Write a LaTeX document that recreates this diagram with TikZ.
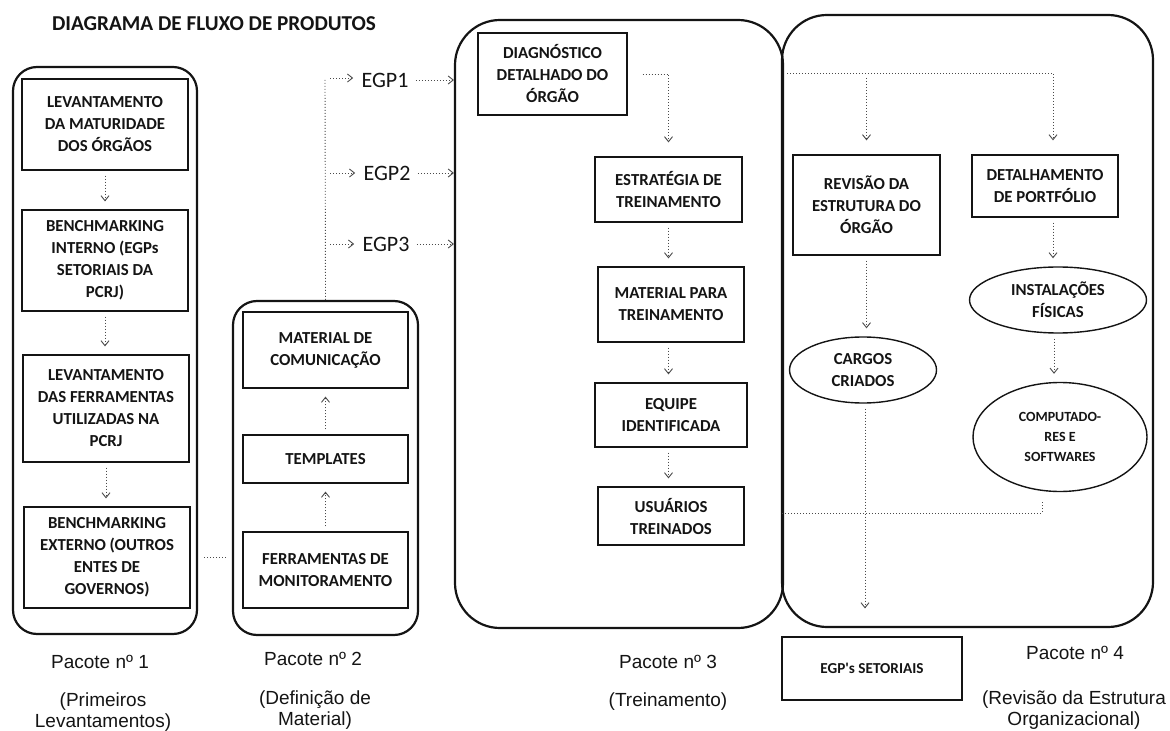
\documentclass[tikz,border=0pt]{standalone}
\usepackage{fontspec}
\usepackage{xcolor}
\usepackage{tikz}
\usetikzlibrary{arrows.meta,positioning,shapes.geometric,calc}
\newfontfamily\boxfont{Carlito}
\newfontfamily\capfont{Liberation Sans}
\definecolor{ink}{HTML}{141414}
\definecolor{dotgray}{HTML}{4A4A4A}
\tikzset{
  prodbox/.style={
    rectangle, draw=ink, line width=0.6pt, text=ink,
    font=\boxfont\bfseries\fontsize{8.4}{11}\selectfont, align=center,
    inner sep=1pt
  },
  prodellipse/.style={
    ellipse, draw=ink, line width=0.7pt, text=ink,
    font=\boxfont\bfseries\fontsize{8.4}{11}\selectfont, align=center,
    inner sep=0pt
  },
  pkgframe/.style={
    rectangle, draw=ink, line width=1.1pt, rounded corners=#1
  },
  pkgframe/.default=12pt,
  flowline/.style={
    dotgray, line width=0.45pt, dash pattern=on 0.5pt off 1pt
  },
  flowarrow/.style={
    flowline, -{Straight Barb[length=2.5pt,width=4pt]},
    shorten <=2.5pt, shorten >=#1
  },
  flowarrow/.default=4pt,
  pkglabel/.style={
    font=\capfont\fontsize{9.5}{10.5}\selectfont, align=center, text=ink
  },
  egplabel/.style={
    font=\boxfont\fontsize{11}{13}\selectfont, text=ink, inner sep=1pt
  },
}

\begin{document}
\begin{tikzpicture}[x=0.5pt, y=-0.5pt]
\useasboundingbox (0,0) rectangle (1170,731);

% Title
\node[font=\boxfont\bfseries\fontsize{10.6}{12}\selectfont, text=ink] (title) at (214,24)
  {DIAGRAMA DE FLUXO DE PRODUTOS};

% Package frames
\node[pkgframe, minimum width=92pt, minimum height=283.5pt] (p1) at (105,350.5) {};
\node[pkgframe, minimum width=92.5pt, minimum height=167pt] (p2) at (325.5,468) {};
\node[pkgframe=22.5pt, minimum width=164pt, minimum height=304pt] (p3) at (619,324) {};
\node[pkgframe=22.5pt, minimum width=185.5pt, minimum height=306pt] (p4) at (967.5,321) {};

% Pacote 1
\node[prodbox, minimum width=83pt, minimum height=45.5pt] (lev1) at (105,124.5)
  {LEVANTAMENTO\\DA MATURIDADE\\DOS ÓRGÃOS};
\node[prodbox, minimum width=83pt, minimum height=50.5pt] (bench1) at (105,260.5)
  {BENCHMARKING\\INTERNO (EGPs\\SETORIAIS DA\\PCRJ)};
\node[prodbox, minimum width=83pt, minimum height=53.5pt] (lev2) at (106,408.5)
  {LEVANTAMENTO\\DAS FERRAMENTAS\\UTILIZADAS NA\\PCRJ};
\node[prodbox, minimum width=83pt, minimum height=50.5pt] (bench2) at (107,557.5)
  {BENCHMARKING\\EXTERNO (OUTROS\\ENTES DE\\GOVERNOS)};

\draw[flowarrow] (lev1.south) -- (lev1.south |- bench1.north);
\draw[flowarrow] (bench1.south) -- (bench1.south |- lev2.north);
\draw[flowarrow] (lev2.south) -- (lev2.south |- bench2.north);

% Pacote 2
\node[prodbox, minimum width=82.5pt, minimum height=38pt] (matcom) at (325.5,350)
  {MATERIAL DE\\COMUNICAÇÃO};
\node[prodbox, minimum width=82.5pt, minimum height=24pt] (templ) at (325.5,459)
  {TEMPLATES};
\node[prodbox, minimum width=82.5pt, minimum height=38pt] (ferr) at (325.5,570)
  {FERRAMENTAS DE\\MONITORAMENTO};

\draw[flowarrow] (ferr.north) -- (templ.south);
\draw[flowarrow] (templ.north) -- (matcom.south);
\draw[flowline, shorten <=3pt, shorten >=3pt] (p1.east |- bench2) -- (p2.west |- bench2);

% EGP branches
\coordinate (trunk) at (325,78);
\node[egplabel] (egp1) at (385,80) {EGP1};
\node[egplabel] (egp2) at (387,173) {EGP2};
\node[egplabel] (egp3) at (386,244) {EGP3};

\draw[flowline] (p2.north) -- (trunk);
\draw[flowarrow=3pt] (trunk) -- (trunk -| egp1.west);
\draw[flowarrow=3pt] (trunk |- egp2) -- (egp2.west);
\draw[flowarrow=3pt] (trunk |- egp3) -- (egp3.west);
\draw[flowarrow=0pt] (egp1.east) -- (egp1 -| p3.west);
\draw[flowarrow=0pt] (egp2.east) -- (egp2 -| p3.west);
\draw[flowarrow=0pt] (egp3.east) -- (egp3 -| p3.west);

% Pacote 3
\node[prodbox, minimum width=74.5pt, minimum height=41pt] (diag) at (552.5,74)
  {DIAGNÓSTICO\\DETALHADO DO\\ÓRGÃO};
\node[prodbox, minimum width=73.5pt, minimum height=32.5pt] (estr) at (668.5,189.5)
  {ESTRATÉGIA DE\\TREINAMENTO};
\node[prodbox, minimum width=73pt, minimum height=37.5pt] (matt) at (671,304.5)
  {MATERIAL PARA\\TREINAMENTO};
\node[prodbox, minimum width=76pt, minimum height=32pt] (equi) at (671,415)
  {EQUIPE\\IDENTIFICADA};
\node[prodbox, minimum width=73pt, minimum height=29pt] (usu) at (671,516)
  {USUÁRIOS\\TREINADOS};

\draw[flowarrow=7pt] ([xshift=5pt]diag.east) -| (estr.north);
\draw[flowarrow] (estr.south) -- (estr.south |- matt.north);
\draw[flowarrow] (estr.south |- matt.south) -- (estr.south |- equi.north);
\draw[flowarrow] (estr.south |- equi.south) -- (estr.south |- usu.north);

% Pacote 4
\node[prodbox, minimum width=73.5pt, minimum height=50pt] (rev) at (866.5,205)
  {REVISÃO DA\\ESTRUTURA DO\\ÓRGÃO};
\node[prodbox, minimum width=73pt, minimum height=31pt] (det) at (1045,186)
  {DETALHAMENTO\\DE PORTFÓLIO};
\node[prodellipse, minimum width=88.5pt, minimum height=33pt] (inst) at (1058,300)
  {INSTALAÇÕES\\FÍSICAS};
\node[prodellipse, minimum width=73.5pt, minimum height=33pt] (cargos) at (863,370)
  {CARGOS\\CRIADOS};
\node[prodellipse, minimum width=87pt, minimum height=54.5pt,
      font=\boxfont\bfseries\fontsize{7}{10}\selectfont] (comp) at (1060,437)
  {COMPUTADO-\\RES E\\SOFTWARES};
\node[prodbox, minimum width=90pt, minimum height=31.5pt,
      font=\boxfont\bfseries\fontsize{7.6}{9}\selectfont] (egps) at (872,668.5)
  {EGP's SETORIAIS};

\coordinate (p4top) at (782,73);
\coordinate (merge) at (1042,513);
\draw[flowarrow=7pt] (p4top) -| ([xshift=4pt]det.north);
\draw[flowarrow=7pt] (p4top -| rev.north) -- (rev.north);
\draw[flowarrow] (rev.south) -- (rev.south |- cargos.north);
\draw[flowarrow] ([xshift=4pt]det.south) -- ([xshift=4pt]det.south |- inst.north);
\draw[flowarrow] ([xshift=-2pt]inst.south) -- ([xshift=-2pt]inst.south |- comp.north);
\draw[flowarrow=14pt] ([xshift=1pt]cargos.south) -- ([xshift=1pt]cargos.south |- egps.north);
\draw[flowline, shorten <=5pt] ([xshift=-9pt]comp.south) |- (p4.west |- merge);

% Package labels
\node[pkglabel] (l1a) at (100,662) {Pacote nº 1};
\node[pkglabel] (l1b) at (103,712) {(Primeiros\\Levantamentos)};
\node[pkglabel] (l2a) at (313,659) {Pacote nº 2};
\node[pkglabel] (l2b) at (315,710) {(Definição de\\Material)};
\node[pkglabel] (l3a) at (668,662) {Pacote nº 3};
\node[pkglabel] (l3b) at (668,702) {(Treinamento)};
\node[pkglabel] (l4a) at (1075,653) {Pacote nº 4};
\node[pkglabel] (l4b) at (1074,710) {(Revisão da Estrutura\\Organizacional)};

\end{tikzpicture}
\end{document}
